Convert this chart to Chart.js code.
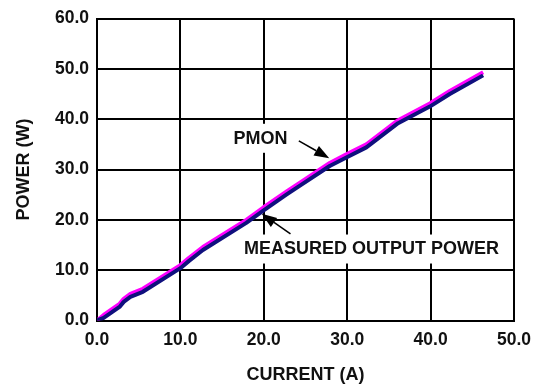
<!DOCTYPE html>
<html>
<head>
<meta charset="utf-8">
<script src="https://cdn.jsdelivr.net/npm/chart.js@4/dist/chart.umd.min.js"></script>
<style>
html,body{margin:0;padding:0;background:#fff;}
#wrap{width:545px;height:392px;position:relative;}
</style>
</head>
<body>
<div id="wrap"><canvas id="c" width="545" height="392"></canvas></div>
<script>
// Data
const current  = [0, 0.8, 2.7, 3.2, 4.0, 5.5, 10.0, 11.0, 12.7, 17.9, 19.9, 22.7, 24.7, 27.9, 29.9, 32.3, 36.1, 39.9, 42.3, 46.3];
const pmon     = [0, 1.1, 3.3, 4.3, 5.3, 6.3, 11.0, 12.4, 14.6, 20.0, 22.4, 25.6, 27.8, 31.3, 33.0, 35.0, 39.8, 43.1, 45.6, 49.3];
const measured = [0, 0.5, 2.7, 3.7, 4.7, 5.7, 10.4, 11.8, 14.0, 19.4, 21.8, 25.0, 27.2, 30.7, 32.4, 34.4, 39.2, 42.5, 45.0, 48.7];
const xTickLabels = ['0.0', '10.0', '20.0', '30.0', '40.0', '50.0'];
const yTickLabels = ['0.0', '10.0', '20.0', '30.0', '40.0', '50.0', '60.0'];
const xTitle = 'CURRENT (A)';
const yTitle = 'POWER (W)';
// Annotations (data units): label, label position, arrow tail, arrow tip
const notes = [
  {text: 'PMON', at: [19.6, 36.3], from: [24.2, 35.7], to: [27.85, 32.25]},
  {text: 'MEASURED OUTPUT POWER', at: [32.9, 14.3], from: [23.2, 17.2], to: [19.75, 21.2]}
];

const FONT = '"Liberation Sans", Arial, Helvetica, sans-serif';

const annot = {
  id: 'annot',
  afterDraw(chart) {
    const ctx = chart.ctx, xs = chart.scales.x, ys = chart.scales.y;
    ctx.save();
    ctx.font = 'bold 18px ' + FONT;
    ctx.textAlign = 'center';
    ctx.textBaseline = 'middle';
    notes.forEach(n => {
      const cx = xs.getPixelForValue(n.at[0]);
      const cy = ys.getPixelForValue(n.at[1]);
      const w = ctx.measureText(n.text).width;
      ctx.fillStyle = '#fff';
      ctx.fillRect(cx - w / 2 - 4, cy - 14, w + 8, 29);
      ctx.fillStyle = '#111';
      ctx.fillText(n.text, cx, cy + 1);
      const x1 = xs.getPixelForValue(n.from[0]), y1 = ys.getPixelForValue(n.from[1]);
      const x2 = xs.getPixelForValue(n.to[0]), y2 = ys.getPixelForValue(n.to[1]);
      const ang = Math.atan2(y2 - y1, x2 - x1);
      const hl = 15, hw = 5.5;
      const bx = x2 - hl * Math.cos(ang), by = y2 - hl * Math.sin(ang);
      ctx.strokeStyle = '#000';
      ctx.lineWidth = 1.5;
      ctx.beginPath();
      ctx.moveTo(x1, y1);
      ctx.lineTo(bx, by);
      ctx.stroke();
      ctx.beginPath();
      ctx.moveTo(x2, y2);
      ctx.lineTo(bx + hw * Math.sin(ang), by - hw * Math.cos(ang));
      ctx.lineTo(bx - hw * Math.sin(ang), by + hw * Math.cos(ang));
      ctx.closePath();
      ctx.fillStyle = '#000';
      ctx.fill();
    });
    ctx.restore();
  }
};

new Chart(document.getElementById('c'), {
  type: 'line',
  data: {
    datasets: [
      {
        label: 'MEASURED OUTPUT POWER',
        data: current.map((x, i) => ({x, y: measured[i]})),
        borderColor: '#10107e',
        borderWidth: 4,
        pointRadius: 0,
        tension: 0,
        borderJoinStyle: 'round'
      },
      {
        label: 'PMON',
        data: current.map((x, i) => ({x, y: pmon[i]})),
        borderColor: '#ff00ff',
        borderWidth: 4,
        pointRadius: 0,
        tension: 0,
        borderJoinStyle: 'round'
      }
    ]
  },
  options: {
    responsive: false,
    animation: false,
    devicePixelRatio: 1,
    layout: {padding: {top: 16, right: 31, left: 0, bottom: 0}},
    plugins: {legend: {display: false}, tooltip: {enabled: false}},
    scales: {
      x: {
        type: 'linear', min: 0, max: 50,
        afterFit(s) { s.height = 71.5; },
        ticks: {
          stepSize: 10, padding: 9, color: '#111',
          font: {family: FONT, size: 17.5, weight: 'bold'},
          callback: (v) => xTickLabels[Math.round(v / 10)],
          maxRotation: 0
        },
        grid: {color: '#000', lineWidth: 2, drawTicks: false},
        border: {color: '#000', width: 2},
        title: {
          display: true, text: xTitle, color: '#111',
          font: {family: FONT, size: 18, weight: 'bold'},
          padding: {top: 0, bottom: 6}
        }
      },
      y: {
        type: 'linear', min: 0, max: 60,
        afterFit(s) { s.width = 97; },
        ticks: {
          stepSize: 10, padding: 8, color: '#111',
          font: {family: FONT, size: 17.5, weight: 'bold'},
          callback: (v) => yTickLabels[Math.round(v / 10)]
        },
        grid: {color: '#000', lineWidth: 2, drawTicks: false},
        border: {color: '#000', width: 2},
        title: {
          display: true, text: yTitle, color: '#111',
          font: {family: FONT, size: 18, weight: 'bold'},
          padding: {top: 13, bottom: 0}
        }
      }
    }
  },
  plugins: [annot]
});
</script>
</body>
</html>
